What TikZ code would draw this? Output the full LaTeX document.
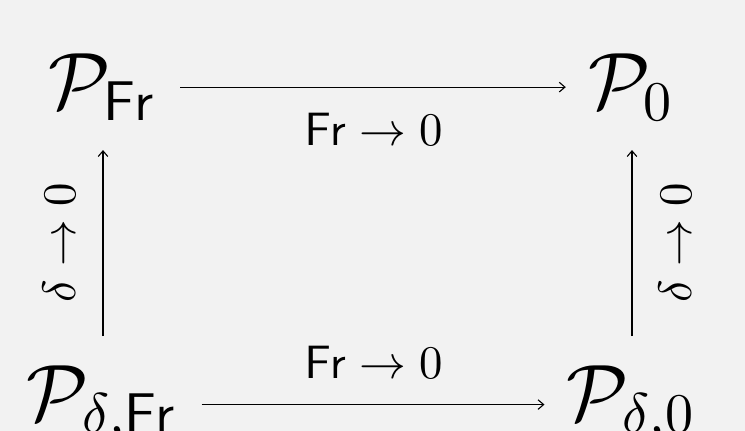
\documentclass[tikz,border=0pt]{standalone}
\usepackage{graphicx}
\usetikzlibrary{arrows.meta}
\definecolor{bgcol}{HTML}{F2F2F2}
\newcommand{\subx}[1]{\scalebox{0.7}{$#1$}}
\begin{document}
\begin{tikzpicture}[x=0.125pt,y=-0.125pt,
  obj/.style={inner xsep=2.6pt, inner ysep=3.5pt, font=\fontsize{10}{12}\selectfont, anchor=base},
  lab/.style={font=\fontsize{10}{12}\selectfont, inner sep=0pt, scale=0.585, transform shape},
  arr/.style={line width=0.14pt, -{Straight Barb[length=0.7pt,width=1.2pt]}}]
\fill[bgcol] (0,0) rectangle (745,431);
\useasboundingbox (0,0) rectangle (745,431);
\node[obj] (pfr) at (103,108.5) {$\mathcal{P}_{\subx{\mathsf{Fr}}}$};
\node[obj] (p0) at (632,108.5) {$\mathcal{P}_{\subx{0}}$};
\node[obj] (pdfr) at (103,420.5) {$\mathcal{P}_{\subx{\delta{,}\mathsf{Fr}}}$};
\node[obj] (pd0) at (632,420.5) {$\mathcal{P}_{\subx{\delta{,}0}}$};
\draw[arr] (pfr.east) -- (pfr.east -| p0.west);
\draw[arr] (pdfr.east) -- (pdfr.east -| pd0.west);
\draw[arr] (pdfr) -- (pfr);
\draw[arr] (pd0) -- (p0);
\node[lab,anchor=base] (ltop) at (373.5,146) {$\mathsf{Fr}\to 0$};
\node[lab,anchor=base] (lbot) at (373.5,379) {$\mathsf{Fr}\to 0$};
\node[lab,rotate=90] (lleft) at (59,243) {$\delta\to 0$};
\node[lab,rotate=90] (lright) at (675,243) {$\delta\to 0$};
\end{tikzpicture}
\end{document}
